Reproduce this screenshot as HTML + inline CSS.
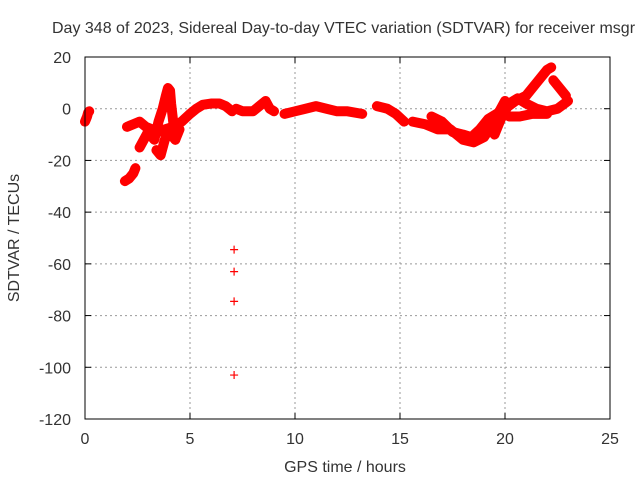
<!DOCTYPE html>
<html><head><meta charset="utf-8"><style>
body{margin:0;background:#fff}
svg text{font-family:"Liberation Sans",sans-serif;font-size:16px;fill:#333}
</style></head><body>
<svg id="c" width="640" height="480" xmlns="http://www.w3.org/2000/svg">
<text x="52" y="33">Day 348 of 2023, Sidereal Day-to-day VTEC variation (SDTVAR) for receiver msgr</text>
<text x="345" y="472" text-anchor="middle">GPS time / hours</text>
<text transform="translate(19,238) rotate(-90)" text-anchor="middle">SDTVAR / TECUs</text>
<g id="grid"></g><g id="tracks"></g><g id="marks"></g>
<rect x="85" y="57" width="525" height="362" fill="none" stroke="#000" stroke-width="1"/>
</svg>
<script>
const xTicks=[0,5,10,15,20,25];
const yTicks=[20,0,-20,-40,-60,-80,-100,-120];
const trackA=[[0,-5],[0.05,-4],[0.1,-3],[0.15,-1.5],[0.2,-1]];
const trackB=[[1.9,-28],[2.1,-27],[2.3,-25],[2.4,-23]];
const trackC=[[2.0,-7],[2.3,-6],[2.6,-5],[2.9,-7],[3.2,-8],[3.5,-9],[3.8,-8],[4.2,-7],[4.6,-5],[5.0,-2],[5.3,0],[5.6,1.5],[6.0,2],[6.4,2],[6.7,1],[7.0,-1]];
const trackD=[[2.6,-15],[2.8,-12],[3.0,-9],[3.3,-12],[3.5,-5],[3.7,0],[3.85,5],[3.95,8],[4.05,7],[4.1,2],[4.2,-5],[4.3,-12]];
const trackE=[[3.4,-16],[3.6,-18],[3.8,-12],[4.0,-9],[4.3,-12],[4.5,-8]];
const trackF=[[7.2,0],[7.5,-1],[8,-1],[8.3,1],[8.6,3],[8.8,0],[9.0,-1]];
const trackG=[[9.5,-2],[10,-1],[10.5,0],[11,1],[11.5,0],[12,-1],[12.5,-1],[13.2,-2]];
const trackH=[[13.9,1],[14.4,0],[14.8,-2],[15.2,-5]];
const trackI=[[15.6,-5],[16.2,-6],[16.8,-8],[17.4,-8],[18.0,-12],[18.5,-13],[19.0,-11],[19.4,-6],[19.8,0],[20.0,3]];
const trackJ=[[16.5,-3],[17,-5],[17.5,-9],[18,-10],[18.4,-11],[18.8,-8],[19.2,-4],[19.6,-2],[20.0,0],[20.5,3],[21,5],[21.5,10],[22,15],[22.2,16]];
const trackK=[[19.5,-10],[19.8,-4],[20.2,2],[20.6,4],[21,2],[21.5,0],[22,-1],[22.5,0],[23,3]];
const trackL=[[20.2,-3],[20.7,-3],[21.3,-2],[22,-2]];
const trackM=[[22.3,11],[22.6,8],[22.9,5]];
const outliers=[[7.1,-54.5],[7.1,-63],[7.1,-74.5],[7.1,-103]];
const tracks=[trackA,trackB,trackC,trackD,trackE,trackF,trackG,trackH,trackI,trackJ,trackK,trackL,trackM];
const X=h=>85+h*21, Y=v=>57+(20-v)*362/140;
const NS="http://www.w3.org/2000/svg";
function mk(t,a,p){const e=document.createElementNS(NS,t);for(const k in a)e.setAttribute(k,a[k]);p.appendChild(e);return e;}
const g=document.getElementById('grid'),svg=document.getElementById('c');
xTicks.forEach(t=>{const x=X(t);
 if(t>0&&t<25){const l=mk('line',{x1:x,x2:x,y1:57,y2:419,stroke:'#999','stroke-dasharray':'2,3'},g);}
 mk('line',{x1:x,x2:x,y1:419,y2:413,stroke:'#000'},g);mk('line',{x1:x,x2:x,y1:57,y2:63,stroke:'#000'},g);
 const tx=mk('text',{x:x,y:444,'text-anchor':'middle'},g);tx.textContent=t;
 });
yTicks.forEach(t=>{const y=Y(t);
 if(t<20&&t>-120){const l=mk('line',{x1:85,x2:610,y1:y,y2:y,stroke:'#999','stroke-dasharray':'2,3'},g);}
 mk('line',{x1:85,x2:91,y1:y,y2:y,stroke:'#000'},g);mk('line',{x1:610,x2:604,y1:y,y2:y,stroke:'#000'},g);
 const tx=mk('text',{x:71,y:y+6,'text-anchor':'end'},g);tx.textContent=t;
 });
const tg=document.getElementById('tracks'),mg=document.getElementById('marks');
tracks.forEach(tr=>{const p=mk('polyline',{points:tr.map(d=>X(d[0])+','+Y(d[1])).join(' '),fill:'none',stroke:'#f00','stroke-width':10,'stroke-linejoin':'round','stroke-linecap':'round'},tg);
 });
function plus(d){const x=X(d[0]),y=Y(d[1]);const e=mk('path',{d:`M${x-4} ${y}H${x+4}M${x} ${y-4}V${y+4}`,stroke:'#f00','stroke-width':1.2},mg);
 }
tracks.forEach(tr=>tr.forEach(plus));outliers.forEach(plus);
</script>
</body></html>
